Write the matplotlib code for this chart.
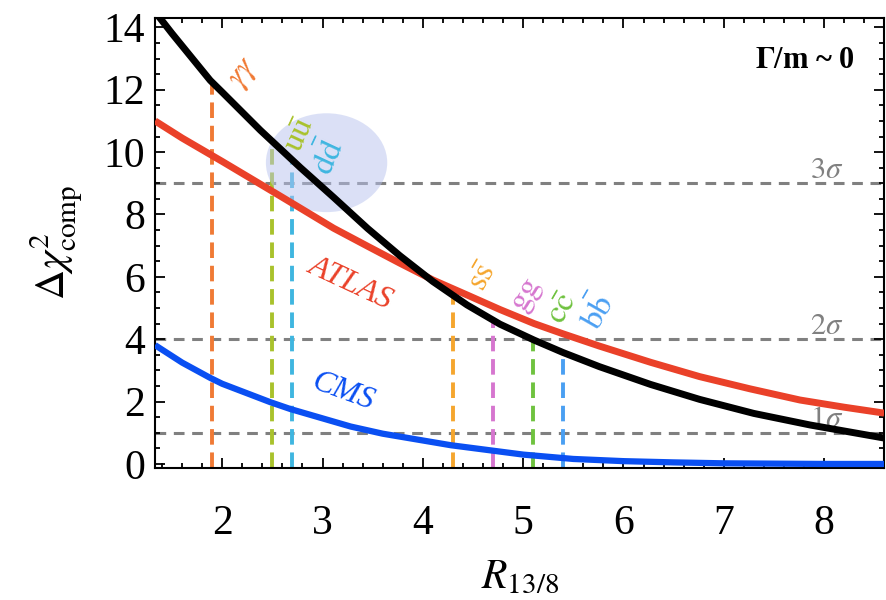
import matplotlib
matplotlib.use("Agg")
import matplotlib.pyplot as plt
from matplotlib.patches import Ellipse
from matplotlib.ticker import MultipleLocator
import numpy as np

plt.rcParams['font.family'] = ['Liberation Serif', 'DejaVu Serif']
plt.rcParams['mathtext.fontset'] = 'stix'

# curves
x_comb = [1.33, 1.5, 1.88, 2.0, 2.38, 2.78, 3.11, 3.45, 3.77, 4.1, 4.44, 4.77,
          5.11, 5.4, 5.76, 6.27, 6.76, 7.3, 7.86, 8.6]
combined = [14.5, 13.8, 12.3, 11.92, 10.7, 9.5, 8.55, 7.55, 6.68, 5.85, 5.1, 4.48,
            3.97, 3.57, 3.12, 2.55, 2.07, 1.62, 1.25, 0.83]

x_atlas = [1.33, 1.6, 2.0, 2.48, 2.78, 3.11, 3.45, 3.77, 4.1, 4.44, 4.77, 5.11,
           5.4, 5.76, 6.27, 6.76, 7.26, 7.76, 8.2, 8.6]
atlas = [11.0, 10.45, 9.7, 8.78, 8.2, 7.56, 6.98, 6.44, 5.9, 5.42, 4.95, 4.5,
         4.17, 3.78, 3.26, 2.8, 2.41, 2.05, 1.82, 1.63]

x_cms = [1.33, 1.6, 1.88, 2.0, 2.48, 2.68, 3.28, 3.6, 4.28, 5.0, 5.5, 6.0, 6.5,
         7.0, 8.0, 8.6]
cms = [3.81, 3.25, 2.76, 2.57, 1.98, 1.76, 1.2, 0.97, 0.6, 0.3, 0.16, 0.09,
       0.05, 0.02, 0.0, 0.0]

# production channels: R_13/8 ratio
channels = [r'$\gamma\gamma$', r'$\mathrm{u}\bar{\mathrm{u}}$', r'$\mathrm{d}\bar{\mathrm{d}}$',
            r'$\mathrm{s}\bar{\mathrm{s}}$', r'$\mathrm{gg}$', r'$\mathrm{c}\bar{\mathrm{c}}$',
            r'$\mathrm{b}\bar{\mathrm{b}}$']
ratios = [1.9, 2.5, 2.7, 4.3, 4.7, 5.1, 5.4]
ch_colors = ['#f07a35', '#a9c22c', '#3fb6e0', '#f5a62e', '#d676cf', '#6fc23f', '#4a9ff2']
label_pos = [(2.22, 12.55), (2.78, 10.55), (3.06, 9.85), (4.6, 6.0),
             (5.04, 5.4), (5.4, 5.0), (5.75, 4.85)]
label_rot = [55, 65, 65, 60, 60, 60, 60]

sigmas = [1, 4, 9]
sigma_labels = [r'$1\sigma$', r'$2\sigma$', r'$3\sigma$']

fig = plt.figure(figsize=(8.86, 6), dpi=100)
ax = fig.add_axes([0.175, 0.22, 0.823, 0.75])
ax.set_xlim(1.33, 8.6)
ax.set_ylim(-0.13, 14.3)

for s, lab in zip(sigmas, sigma_labels):
    ax.axhline(s, color='#808080', lw=2.2, dashes=(3.5, 2.5), zorder=1)
    ax.text(8.03, s + 0.17, lab, color='#808080', fontsize=22, ha='center', va='baseline')

ymin = ax.get_ylim()[0]
for r, c in zip(ratios, ch_colors):
    top = np.interp(r, x_comb, combined)
    ax.vlines(r, ymin, top, colors=c, lw=2.8, linestyles=(0, (4, 2)), zorder=2)

ax.add_patch(Ellipse((3.04, 9.66), 1.21, 3.17, facecolor='#b8c3ee', alpha=0.5,
                     edgecolor='none', zorder=2.5))

ax.plot(x_cms, cms, color='#0a4ff2', lw=4.5, zorder=3, solid_capstyle='butt')
ax.plot(x_atlas, atlas, color='#ea4129', lw=5, zorder=3, solid_capstyle='butt')
ax.plot(x_comb, combined, color='black', lw=5, zorder=4, solid_capstyle='butt')

for lab, c, (lx, ly), rot in zip(channels, ch_colors, label_pos, label_rot):
    ax.text(lx, ly, lab, color=c, fontsize=24, rotation=rot, ha='center', va='center',
            zorder=5)

ax.text(3.28, 5.8, 'ATLAS', color='#ea4129', fontsize=23, style='italic',
        rotation=-25, ha='center', va='center', zorder=5)
ax.text(3.2, 2.3, 'CMS', color='#0a4ff2', fontsize=23, style='italic',
        rotation=-20, ha='center', va='center', zorder=5)
ax.text(7.81, 12.7, r'$\mathbf{\Gamma}$/m ~ 0', fontsize=22, fontweight='bold',
        ha='center', va='baseline')

ax.xaxis.set_major_locator(MultipleLocator(1))
ax.xaxis.set_minor_locator(MultipleLocator(0.2))
ax.yaxis.set_major_locator(MultipleLocator(2))
ax.yaxis.set_minor_locator(MultipleLocator(0.5))
ax.tick_params(which='both', direction='in', top=True, right=True, width=1.3)
ax.tick_params(which='major', length=7)
ax.tick_params(which='minor', length=3.5)
ax.tick_params(axis='x', labelsize=30, pad=26)
ax.tick_params(axis='y', labelsize=30, pad=7)
for sp in ax.spines.values():
    sp.set_linewidth(1.5)

ax.set_xlabel(r'$R_{13/8}$', fontsize=30, labelpad=12)
ax.set_ylabel(r'$\Delta\chi^2_{\mathrm{comp}}$', fontsize=30, labelpad=14)

fig.savefig('out.png', dpi=100)
